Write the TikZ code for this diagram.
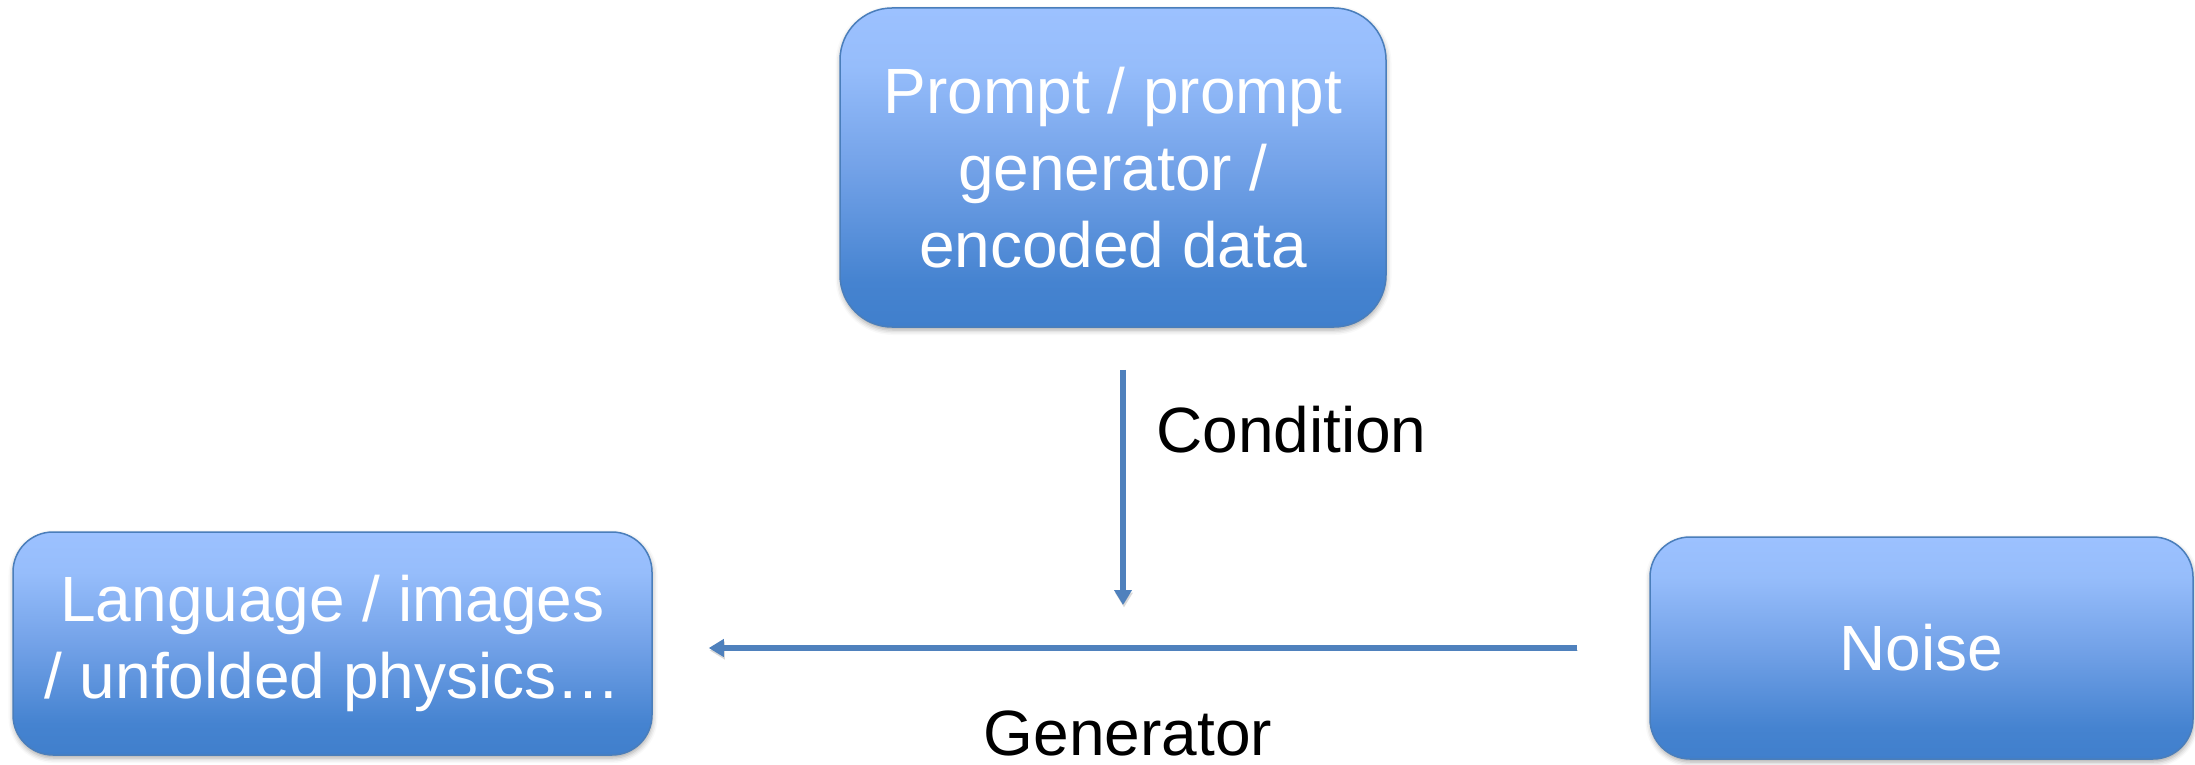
\documentclass[tikz,border=0pt]{standalone}
\usepackage{fontspec}
\setmainfont{Liberation Sans}
\usetikzlibrary{arrows.meta,shadows.blur}

\definecolor{boxbot}{RGB}{64,127,204}
\definecolor{boxlow}{RGB}{69,131,208}
\definecolor{boxmid}{RGB}{115,162,232}
\definecolor{boxhigh}{RGB}{150,189,251}
\definecolor{boxtop}{RGB}{156,193,255}
\definecolor{boxline}{RGB}{74,126,187}
\definecolor{arrowblue}{RGB}{79,129,189}

% vertical gradient of the boxes (path spans 25bp..75bp)
\pgfdeclareverticalshading{boxgrad}{100bp}{
  color(0bp)=(boxbot); color(25bp)=(boxbot); color(32bp)=(boxlow);
  color(50bp)=(boxmid); color(66bp)=(boxhigh); color(75bp)=(boxtop);
  color(100bp)=(boxtop)}

\begin{document}
\begin{tikzpicture}[x=1pt,y=-1pt,
  box/.style={draw=boxline, line width=1.5pt, shading=boxgrad,
    text=white, align=center, inner sep=0pt,
    font=\fontsize{64}{76.8}\selectfont,
    blur shadow={shadow xshift=0.5pt, shadow yshift=-3pt,
      shadow blur radius=5pt, shadow opacity=35}},
  flow/.style={draw=arrowblue, line width=5.5pt,
    -{Triangle[width=17pt,length=15pt]},
    preaction={draw=black, opacity=0.15,
      transform canvas={xshift=1pt,yshift=-2.5pt}}},
  edgetext/.style={text=black, inner sep=0pt,
    font=\fontsize{64}{76.8}\selectfont}]

\useasboundingbox (0,0) rectangle (2195,765);

% boxes
\node[box, minimum width=546pt, minimum height=319pt, rounded corners=52pt]
  (prompt) at (1113,167.5) {Prompt / prompt\\generator /\\encoded data};
\node[box, minimum width=639pt, minimum height=223pt, rounded corners=40pt]
  (out) at (332.5,643.5) {Language / images\\/ unfolded physics…};
\node[box, minimum width=543pt, minimum height=222pt, rounded corners=40pt]
  (noise) at (1921.5,648) {Noise};

% connectors
\coordinate (condend) at (1123,605);
\draw[flow] ([xshift=10pt,yshift=-42pt]prompt.south) -- (condend);
\draw[flow, shorten >=56pt] ([xshift=-72pt]noise.west) -- (noise.west -| out.east);

% labels
\node[edgetext, anchor=base west] (condlbl) at (1156,452) {Condition};
\node[edgetext, anchor=base] (genlbl) at (1128,755) {Generator};
\end{tikzpicture}
\end{document}
